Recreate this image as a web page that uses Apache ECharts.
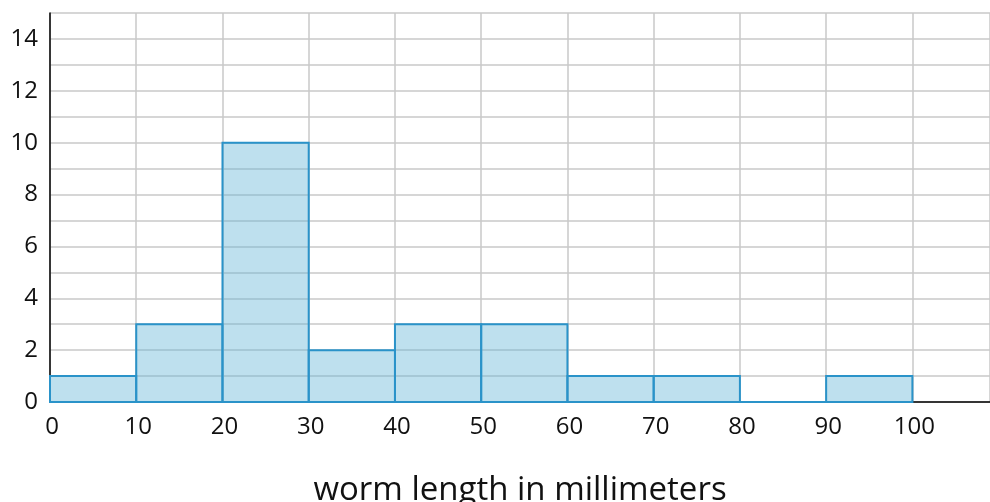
<!DOCTYPE html>
<html>
<head>
<meta charset="utf-8">
<script src="https://cdn.jsdelivr.net/npm/echarts@6/dist/echarts.min.js"></script>
<style>
  html, body { margin: 0; padding: 0; background: #fff; }
  #chart { width: 990px; height: 502px; }
</style>
</head>
<body>
<div id="chart"></div>
<script>
// bin edges (mm) and counts
const binStarts = [0, 10, 20, 30, 40, 50, 60, 70, 80, 90];
const binWidth = 10;
const counts = [1, 3, 10, 2, 3, 3, 1, 1, 0, 1];
const xLabels = [0, 10, 20, 30, 40, 50, 60, 70, 80, 90, 100];
const yLabels = [0, 2, 4, 6, 8, 10, 12, 14];

const histData = binStarts.map((s, i) => [s, s + binWidth, counts[i]]);

const chart = echarts.init(document.getElementById('chart'));

chart.setOption({
  animation: false,
  grid: { left: 50, right: 0, top: 13, bottom: 100, outerBoundsMode: 'none' },
  xAxis: {
    type: 'value',
    min: 0,
    max: 109,
    interval: 10,
    name: 'worm length in millimeters',
    nameLocation: 'middle',
    nameGap: 72,
    nameTextStyle: { fontSize: 33, color: '#111', fontFamily: 'Open Sans' },
    axisLine: { show: true, lineStyle: { color: '#000', width: 1.5 } },
    axisTick: { show: false },
    axisLabel: {
      fontSize: 24,
      color: '#111',
      fontFamily: 'Open Sans',
      margin: 13,
      padding: [0, 0, 0, 4],
      formatter: v => (xLabels.includes(v) ? String(v) : '')
    },
    splitLine: { show: true, lineStyle: { color: '#c8c8c8', width: 1.5 } }
  },
  yAxis: {
    type: 'value',
    min: 0,
    max: 15,
    interval: 1,
    axisLine: { show: true, lineStyle: { color: '#000', width: 1.5 } },
    axisTick: { show: false },
    axisLabel: {
      fontSize: 24,
      color: '#111',
      fontFamily: 'Open Sans',
      margin: 12,
      formatter: v => (yLabels.includes(v) ? String(v) : '')
    },
    splitLine: { show: true, lineStyle: { color: '#c8c8c8', width: 1.5 } }
  },
  series: [{
    type: 'custom',
    data: histData,
    encode: { x: [0, 1], y: 2 },
    renderItem: (params, api) => {
      const p0 = api.coord([api.value(0), api.value(2)]);
      const p1 = api.coord([api.value(1), 0]);
      return {
        type: 'rect',
        shape: { x: p0[0], y: p0[1], width: p1[0] - p0[0], height: p1[1] - p0[1] },
        style: {
          fill: 'rgba(100,180,215,0.42)',
          stroke: '#2a93c9',
          lineWidth: 2
        }
      };
    }
  }]
});
</script>
</body>
</html>
